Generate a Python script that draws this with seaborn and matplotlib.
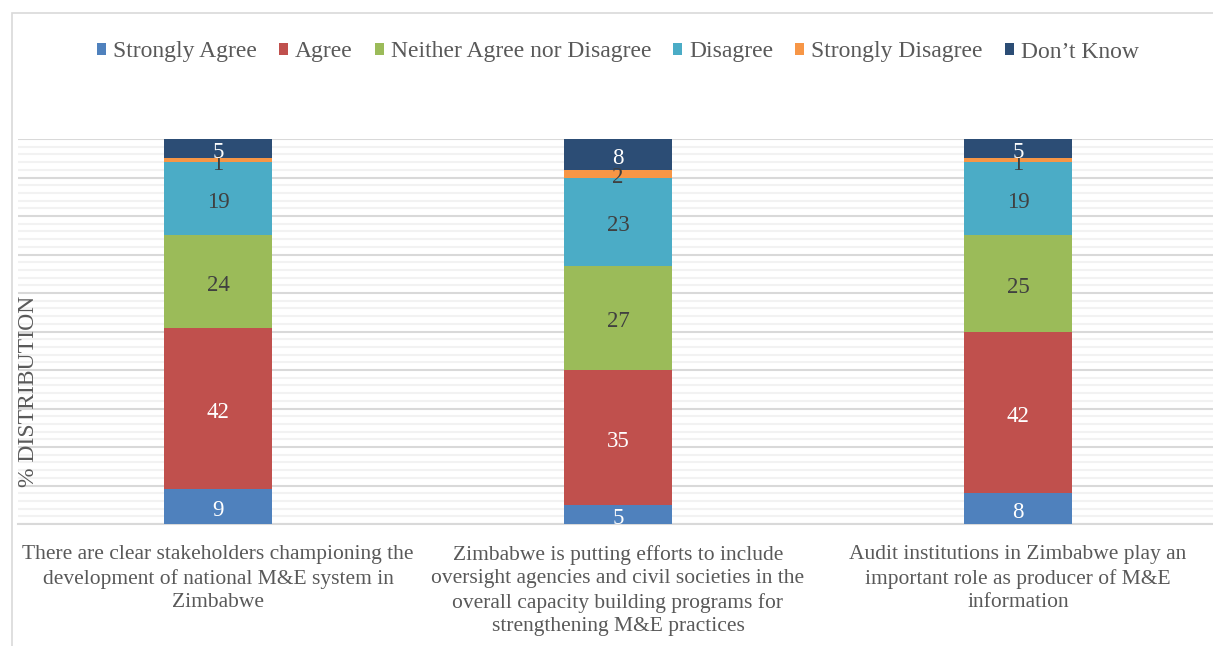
import numpy as np
import pandas as pd
import matplotlib
matplotlib.use("Agg")
import matplotlib.pyplot as plt
from matplotlib.patches import Patch, Rectangle
import seaborn as sns

# ---- data ----
categories = [
    "There are clear stakeholders championing the\ndevelopment of national M&E system in\nZimbabwe",
    "Zimbabwe is putting efforts to include\noversight agencies and civil societies in the\noverall capacity building programs for\nstrengthening M&E practices",
    "Audit institutions in Zimbabwe play an\nimportant role as producer of M&E\ninformation",
]
series_names = ["Strongly Agree", "Agree", "Neither Agree nor Disagree",
                "Disagree", "Strongly Disagree", "Don\u2019t Know"]
strongly_agree = [9, 5, 8]
agree = [42, 35, 42]
neither = [24, 27, 25]
disagree = [19, 23, 19]
strongly_disagree = [1, 2, 1]
dont_know = [5, 8, 5]

series_values = [strongly_agree, agree, neither, disagree, strongly_disagree, dont_know]
colors = ["#4F81BD", "#C0504D", "#9BBB59", "#4BACC6", "#F79646", "#2C4D75"]
label_colors = ["white", "white", "#404040", "#404040", "#404040", "white"]

sns.set_theme(style="white")
plt.rcParams["font.family"] = ["Liberation Serif", "DejaVu Serif"]

W, H = 1213, 646
fig = plt.figure(figsize=(W / 100, H / 100), dpi=100)
ax_left, ax_right, ax_top, ax_bot = 18, 1218, 139, 524
ax = fig.add_axes([ax_left / W, 1 - ax_bot / H, (ax_right - ax_left) / W, (ax_bot - ax_top) / H])
ax.set_facecolor("none")

# chart border
fig.patches.append(Rectangle((11.5 / W, -0.1), 1.2, 1 - 12.5 / H + 0.1, transform=fig.transFigure,
                             fill=False, edgecolor="#d9d9d9", linewidth=1.2, zorder=0))

# cumulative data (draw from top layer down)
vals = np.array(series_values, dtype=float)
cum = np.cumsum(vals, axis=0)
for i in range(len(series_names) - 1, -1, -1):
    df = pd.DataFrame({"cat": categories, "val": cum[i]})
    sns.barplot(data=df, x="cat", y="val", order=categories, color=colors[i],
                width=0.27, errorbar=None, ax=ax, saturation=1, edgecolor="none", zorder=3)

# data labels
for i in range(len(series_names)):
    for j in range(len(categories)):
        center = cum[i][j] - vals[i][j] / 2
        ax.text(j, center - 1.0, f"{int(vals[i][j])}", ha="center", va="center",
                fontsize=16.5, color=label_colors[i], zorder=5)

ax.set_ylim(0, 100)
ax.set_xlim(-0.5, 2.5)
ax.set_yticks(np.arange(0, 101, 10))
ax.set_yticks(np.arange(0, 101, 2), minor=True)
ax.set_yticklabels([])
ax.tick_params(axis="y", which="both", length=0)
ax.grid(False)
ax.yaxis.grid(True, which="minor", color="#f2f2f2", linewidth=1.5, zorder=0)
ax.yaxis.grid(True, which="major", color="#d9d9d9", linewidth=1.5, zorder=1)
ax.set_axisbelow(True)

for s in ["left", "right", "top"]:
    ax.spines[s].set_visible(False)
ax.spines["bottom"].set_color("#d9d9d9")
ax.spines["bottom"].set_linewidth(1.5)

ax.set_xticks(range(len(categories)))
ax.set_xticklabels(categories, fontsize=15.5, color="#595959", linespacing=1.32)
ax.set_xticks([-0.5, 0.5, 1.5, 2.5], minor=True)
ax.tick_params(axis="x", which="major", length=0, pad=15)
ax.tick_params(axis="x", which="minor", length=4, width=1.5, color="#d9d9d9", direction="out")
ax.set_xlabel("")
ax.set_ylabel("")

fig.text(28.5 / W, 1 - 391 / H, "% DISTRIBUTION", rotation=90, ha="center", va="center",
         fontsize=17, color="#595959")

handles = [Patch(facecolor=c, edgecolor="none") for c in colors]
leg = ax.legend(handles, series_names, loc="center", bbox_to_anchor=(0.5, (ax_bot - 52) / (ax_bot - ax_top)),
                ncol=6, frameon=False, fontsize=17, handlelength=0.38, handleheight=0.38,
                handletextpad=0.3, columnspacing=0.93, borderaxespad=0)
for t in leg.get_texts():
    t.set_color("#595959")

fig.savefig("out.png", dpi=100)
